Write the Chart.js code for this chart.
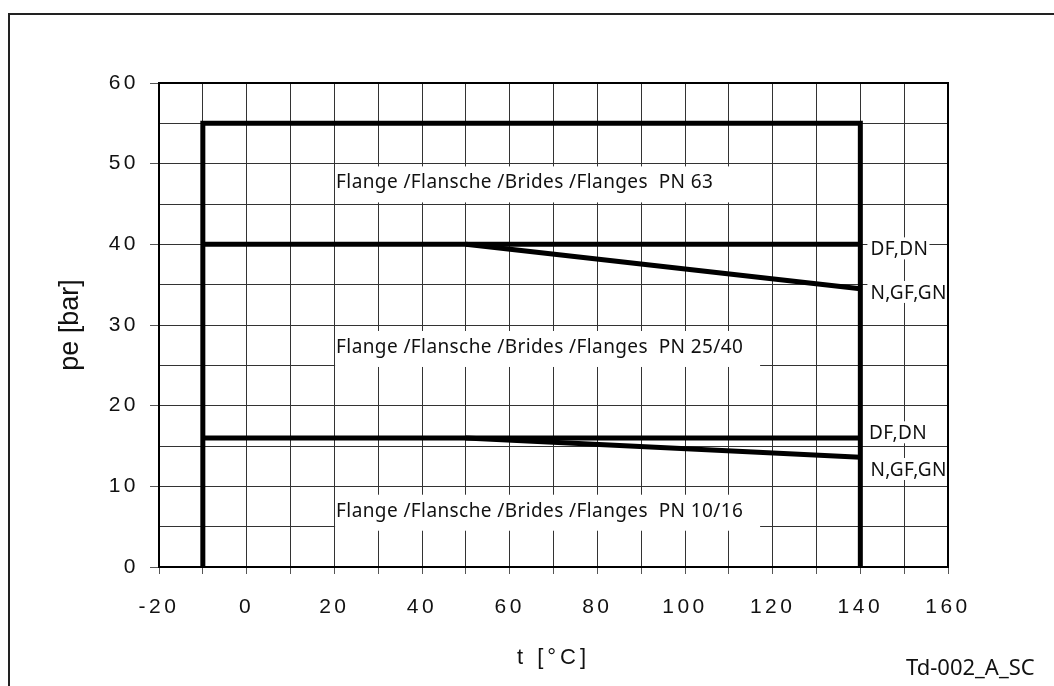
<!DOCTYPE html>
<html>
<head>
<meta charset="utf-8">
<script src="https://cdn.jsdelivr.net/npm/chart.js@4/dist/chart.umd.min.js"></script>
<style>
  html, body { margin: 0; padding: 0; background: #fff; overflow: hidden; }
</style>
</head>
<body>
<canvas id="myChart" width="1054" height="686"></canvas>
<script>
  // tick values that carry a label
  const xLabelled = [-20, 0, 20, 40, 60, 80, 100, 120, 140, 160];
  const yLabelled = [0, 10, 20, 30, 40, 50, 60];

  // PN 63 outer limit
  const outerX = [-10, -10, 140, 140];
  const outerY = [0, 55, 55, 0];
  // PN 25/40 : DF,DN flat, N,GF,GN falling
  const upperFlatX = [-10, 140];
  const upperFlatY = [40, 40];
  const upperSlopeX = [50, 140];
  const upperSlopeY = [40, 34.5];
  // PN 10/16 : DF,DN flat, N,GF,GN falling
  const lowerFlatX = [-10, 140];
  const lowerFlatY = [16, 16];
  const lowerSlopeX = [50, 140];
  const lowerSlopeY = [16, 13.6];

  // text notes inside the plot (data coords of the left end / middle of the capitals)
  const noteTexts = ['Flange /Flansche /Brides /Flanges  PN 63',
                     'Flange /Flansche /Brides /Flanges  PN 25/40',
                     'Flange /Flansche /Brides /Flanges  PN 10/16',
                     'DF,DN', 'N,GF,GN', 'DF,DN', 'N,GF,GN'];
  const noteX = [20.4, 20.4, 20.4, 142.3, 142.3, 142.0, 142.3];
  const noteY = [47.8, 27.4, 7.1, 39.5, 34.1, 16.7, 12.15];

  // spaced digits on the axes, like the original drawing
  const baseLabels = Chart.Scale.prototype.drawLabels;
  Chart.Scale.prototype.drawLabels = function (area) {
    this.ctx.save();
    this.ctx.letterSpacing = '3.5px';
    baseLabels.call(this, area);
    this.ctx.restore();
  };
  const baseTitle = Chart.Scale.prototype.drawTitle;
  Chart.Scale.prototype.drawTitle = function () {
    this.ctx.save();
    this.ctx.letterSpacing = this.isHorizontal() ? '4px' : '0px';
    baseTitle.call(this);
    this.ctx.restore();
  };

  function pts(xs, ys) {
    return xs.map((x, i) => ({ x: x, y: ys[i] }));
  }

  function lineSet(label, xs, ys) {
    return {
      label: label,
      data: pts(xs, ys),
      borderColor: '#000',
      borderWidth: 5,
      pointRadius: 0,
      fill: false,
      tension: 0,
      borderJoinStyle: 'miter'
    };
  }

  const extras = {
    id: 'extras',
    beforeDatasetsDraw(chart) {
      const ctx = chart.ctx;
      const xs = chart.scales.x, ys = chart.scales.y;
      const size = 19;
      ctx.save();
      ctx.letterSpacing = '0.4px';
      ctx.font = size + 'px "Noto Sans"';
      ctx.textBaseline = 'alphabetic';
      ctx.textAlign = 'left';
      for (let i = 0; i < noteTexts.length; i++) {
        const px = xs.getPixelForValue(noteX[i]);
        const py = ys.getPixelForValue(noteY[i]);
        const w = ctx.measureText(noteTexts[i]).width;
        ctx.fillStyle = '#fff';
        if (i < 3) {
          ctx.fillRect(px - 1, py - 15, 425, 36); // wide boxes of the original drawing
        } else {
          ctx.fillRect(px - 3, py - 11, w + 4, 22);
        }
        ctx.fillStyle = '#111';
        ctx.fillText(noteTexts[i], px, py + 0.357 * size);
      }
      ctx.restore();
    },
    afterDraw(chart) {
      const ctx = chart.ctx;
      const a = chart.chartArea;
      ctx.save();
      // plot frame
      ctx.strokeStyle = '#000';
      ctx.lineWidth = 2;
      ctx.strokeRect(a.left, a.top, a.right - a.left, a.bottom - a.top);
      // outer page frame
      ctx.strokeStyle = '#222';
      ctx.beginPath();
      ctx.moveTo(9, 686);
      ctx.lineTo(9, 14);
      ctx.lineTo(1054, 14);
      ctx.stroke();
      // drawing code
      ctx.fillStyle = '#111';
      ctx.font = '22px "Noto Sans"';
      ctx.textAlign = 'left';
      ctx.textBaseline = 'alphabetic';
      ctx.fillText('Td-002_A_SC', 906, 675);
      ctx.restore();
    }
  };

  const ctx = document.getElementById('myChart').getContext('2d');
  const chart = new Chart(ctx, {
    type: 'line',
    data: {
      datasets: [
        lineSet('PN 63', outerX, outerY),
        lineSet('PN 40 DF,DN', upperFlatX, upperFlatY),
        lineSet('PN 40 N,GF,GN', upperSlopeX, upperSlopeY),
        lineSet('PN 16 DF,DN', lowerFlatX, lowerFlatY),
        lineSet('PN 16 N,GF,GN', lowerSlopeX, lowerSlopeY)
      ]
    },
    options: {
      responsive: false,
      animation: false,
      layout: { padding: { left: 0, top: 83, right: 106, bottom: 0 } },
      plugins: {
        legend: { display: false },
        tooltip: { enabled: false }
      },
      scales: {
        x: {
          type: 'linear',
          min: -20,
          max: 160,
          afterFit(scale) { scale.height = 119; },
          border: { color: '#000', width: 2 },
          grid: { color: '#333', lineWidth: 1, tickLength: 7, tickColor: '#555' },
          ticks: {
            stepSize: 10,
            autoSkip: false,
            maxRotation: 0,
            padding: 21,
            color: '#111',
            font: { family: '"Liberation Sans"', size: 21 },
            callback: (v) => xLabelled.includes(v) ? String(v) : ''
          },
          title: {
            display: true,
            text: 't [°C]',
            color: '#111',
            font: { family: '"Liberation Sans"', size: 22 },
            padding: { top: 0, bottom: 15 }
          }
        },
        y: {
          min: 0,
          max: 60,
          afterFit(scale) { scale.width = 159; },
          border: { color: '#000', width: 2 },
          grid: {
            color: '#333',
            lineWidth: 1,
            tickLength: 9,
            tickColor: (c) => yLabelled.includes(c.tick && c.tick.value) ? '#555' : 'rgba(0,0,0,0)'
          },
          ticks: {
            stepSize: 5,
            autoSkip: false,
            padding: 11,
            color: '#111',
            font: { family: '"Liberation Sans"', size: 21 },
            callback: (v) => yLabelled.includes(v) ? String(v) : ''
          },
          title: {
            display: true,
            text: 'pe [bar]',
            color: '#111',
            font: { family: '"Liberation Sans"', size: 27 },
            padding: { top: 54, bottom: 0 }
          }
        }
      }
    },
    plugins: [extras]
  });
</script>
</body>
</html>
